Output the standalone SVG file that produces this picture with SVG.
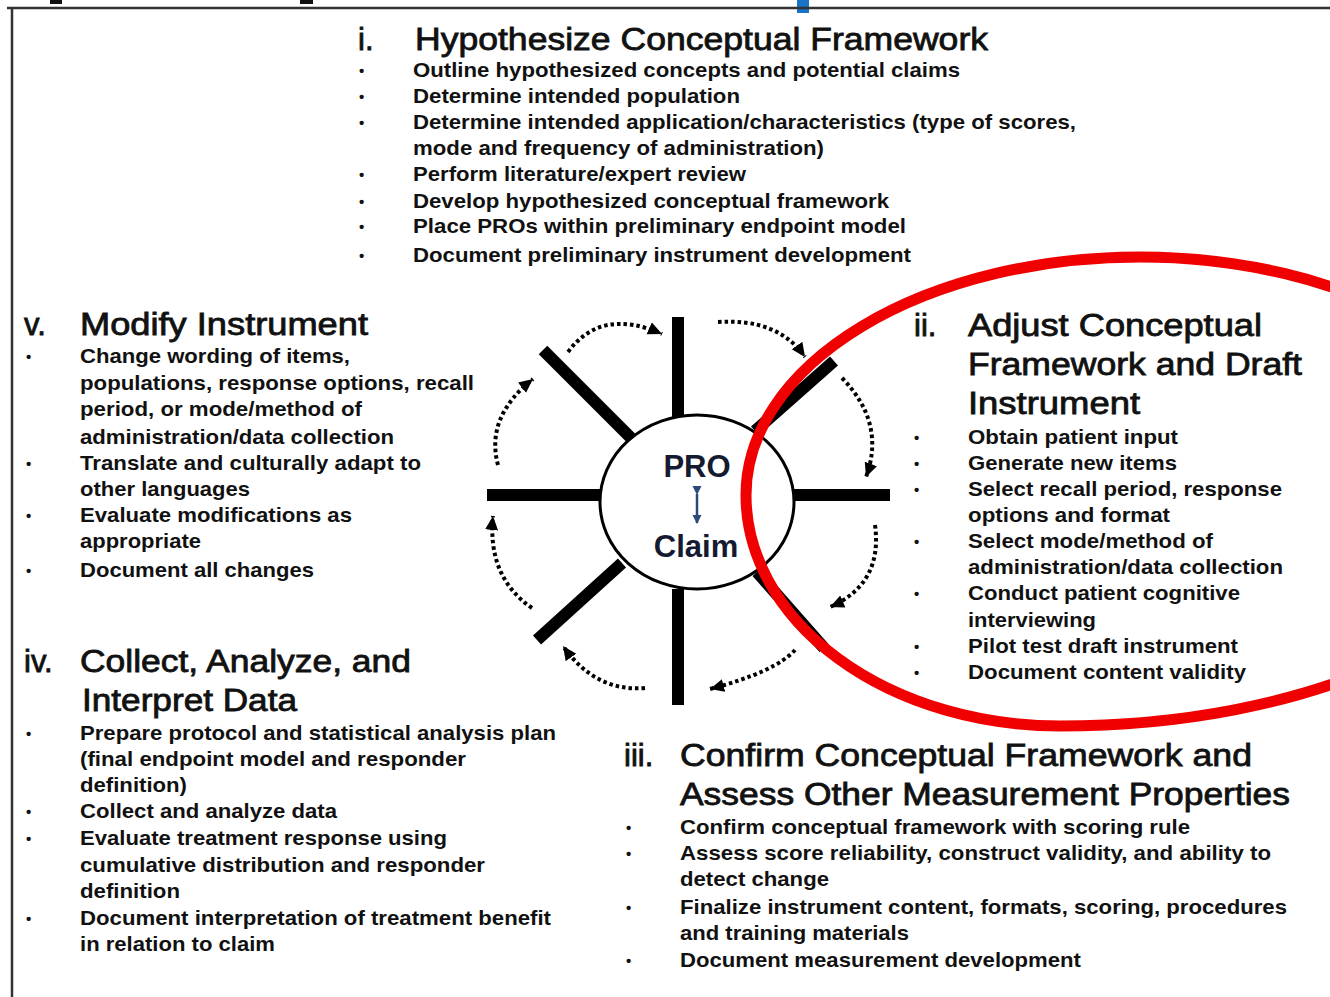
<svg xmlns="http://www.w3.org/2000/svg" width="1330" height="997" viewBox="0 0 1330 997">
<defs>
<style>
text{font-family:"Liberation Sans",Arial,sans-serif;fill:#111}
.h{font-size:31px;font-weight:400;stroke:#111;stroke-width:0.8}
.b{font-size:21px;font-weight:700}
.d{font-size:15px;font-weight:700}
.spoke{stroke:#000;stroke-width:12;stroke-linecap:butt;fill:none}
.arc{stroke:#000;stroke-width:4;fill:none;stroke-dasharray:3.5 3;marker-end:url(#ah)}
</style>
<marker id="ah" markerUnits="userSpaceOnUse" markerWidth="16" markerHeight="14" refX="14" refY="6.5" orient="auto">
<path d="M0,0 L14,6.5 L0,13 Z" fill="#000"/>
</marker>
<marker id="sa" markerUnits="userSpaceOnUse" markerWidth="10" markerHeight="10" refX="8" refY="4.5" orient="auto">
<path d="M0,0 L9,4.5 L0,9 Z" fill="#2c4a78"/>
</marker>
</defs>
<rect width="1330" height="997" fill="#fff"/>
<g id="frame">
<rect x="50" y="0" width="12" height="4" fill="#111"/>
<rect x="300" y="0" width="13" height="4" fill="#111"/>
<rect x="797" y="0" width="12" height="13" fill="#1a73c8"/>
<line x1="7" y1="8" x2="1330" y2="8" stroke="#333" stroke-width="2.5"/>
<line x1="12" y1="8" x2="12" y2="997" stroke="#333" stroke-width="2.5"/>
</g>
<g id="step-i">
<text class="h" x="358" y="50">i.</text>
<text class="h" x="415" y="50" textLength="573" lengthAdjust="spacingAndGlyphs">Hypothesize Conceptual Framework</text>
<text class="d" x="359" y="76">•</text><text class="b" x="413" y="77" textLength="547" lengthAdjust="spacingAndGlyphs">Outline hypothesized concepts and potential claims</text>
<text class="d" x="359" y="102">•</text><text class="b" x="413" y="103" textLength="327" lengthAdjust="spacingAndGlyphs">Determine intended population</text>
<text class="d" x="359" y="128">•</text><text class="b" x="413" y="129" textLength="663" lengthAdjust="spacingAndGlyphs">Determine intended application/characteristics (type of scores,</text>
<text class="b" x="413" y="155" textLength="411" lengthAdjust="spacingAndGlyphs">mode and frequency of administration)</text>
<text class="d" x="359" y="180">•</text><text class="b" x="413" y="181" textLength="333" lengthAdjust="spacingAndGlyphs">Perform literature/expert review</text>
<text class="d" x="359" y="207">•</text><text class="b" x="413" y="208" textLength="476" lengthAdjust="spacingAndGlyphs">Develop hypothesized conceptual framework</text>
<text class="d" x="359" y="232">•</text><text class="b" x="413" y="233" textLength="493" lengthAdjust="spacingAndGlyphs">Place PROs within preliminary endpoint model</text>
<text class="d" x="359" y="261">•</text><text class="b" x="413" y="262" textLength="498" lengthAdjust="spacingAndGlyphs">Document preliminary instrument development</text>
</g>
<g id="step-v">
<text class="h" x="24" y="335">v.</text>
<text class="h" x="80" y="335" textLength="288" lengthAdjust="spacingAndGlyphs">Modify Instrument</text>
<text class="d" x="26" y="362">•</text><text class="b" x="80" y="363" textLength="270" lengthAdjust="spacingAndGlyphs">Change wording of items,</text>
<text class="b" x="80" y="390" textLength="394" lengthAdjust="spacingAndGlyphs">populations, response options, recall</text>
<text class="b" x="80" y="416" textLength="282" lengthAdjust="spacingAndGlyphs">period, or mode/method of</text>
<text class="b" x="80" y="444" textLength="314" lengthAdjust="spacingAndGlyphs">administration/data collection</text>
<text class="d" x="26" y="469">•</text><text class="b" x="80" y="470" textLength="341" lengthAdjust="spacingAndGlyphs">Translate and culturally adapt to</text>
<text class="b" x="80" y="496" textLength="170" lengthAdjust="spacingAndGlyphs">other languages</text>
<text class="d" x="26" y="521">•</text><text class="b" x="80" y="522" textLength="272" lengthAdjust="spacingAndGlyphs">Evaluate modifications as</text>
<text class="b" x="80" y="548" textLength="121" lengthAdjust="spacingAndGlyphs">appropriate</text>
<text class="d" x="26" y="576">•</text><text class="b" x="80" y="577" textLength="234" lengthAdjust="spacingAndGlyphs">Document all changes</text>
</g>
<g id="step-iv">
<text class="h" x="24" y="672">iv.</text>
<text class="h" x="80" y="672" textLength="331" lengthAdjust="spacingAndGlyphs">Collect, Analyze, and</text>
<text class="h" x="82" y="711" textLength="215" lengthAdjust="spacingAndGlyphs">Interpret Data</text>
<text class="d" x="26" y="739">•</text><text class="b" x="80" y="740" textLength="476" lengthAdjust="spacingAndGlyphs">Prepare protocol and statistical analysis plan</text>
<text class="b" x="80" y="766" textLength="386" lengthAdjust="spacingAndGlyphs">(final endpoint model and responder</text>
<text class="b" x="80" y="792" textLength="107" lengthAdjust="spacingAndGlyphs">definition)</text>
<text class="d" x="26" y="817">•</text><text class="b" x="80" y="818" textLength="257" lengthAdjust="spacingAndGlyphs">Collect and analyze data</text>
<text class="d" x="26" y="844">•</text><text class="b" x="80" y="845" textLength="367" lengthAdjust="spacingAndGlyphs">Evaluate treatment response using</text>
<text class="b" x="80" y="872" textLength="405" lengthAdjust="spacingAndGlyphs">cumulative distribution and responder</text>
<text class="b" x="80" y="898" textLength="100" lengthAdjust="spacingAndGlyphs">definition</text>
<text class="d" x="26" y="924">•</text><text class="b" x="80" y="925" textLength="471" lengthAdjust="spacingAndGlyphs">Document interpretation of treatment benefit</text>
<text class="b" x="80" y="951" textLength="195" lengthAdjust="spacingAndGlyphs">in relation to claim</text>
</g>
<g id="step-iii">
<text class="h" x="624" y="766">iii.</text>
<text class="h" x="680" y="766" textLength="572" lengthAdjust="spacingAndGlyphs">Confirm Conceptual Framework and</text>
<text class="h" x="680" y="805" textLength="610" lengthAdjust="spacingAndGlyphs">Assess Other Measurement Properties</text>
<text class="d" x="626" y="833">•</text><text class="b" x="680" y="834" textLength="510" lengthAdjust="spacingAndGlyphs">Confirm conceptual framework with scoring rule</text>
<text class="d" x="626" y="859">•</text><text class="b" x="680" y="860" textLength="591" lengthAdjust="spacingAndGlyphs">Assess score reliability, construct validity, and ability to</text>
<text class="b" x="680" y="886" textLength="149" lengthAdjust="spacingAndGlyphs">detect change</text>
<text class="d" x="626" y="913">•</text><text class="b" x="680" y="914" textLength="607" lengthAdjust="spacingAndGlyphs">Finalize instrument content, formats, scoring, procedures</text>
<text class="b" x="680" y="940" textLength="229" lengthAdjust="spacingAndGlyphs">and training materials</text>
<text class="d" x="626" y="966">•</text><text class="b" x="680" y="967" textLength="401" lengthAdjust="spacingAndGlyphs">Document measurement development</text>
</g>
<g id="step-ii">
<text class="h" x="914" y="336">ii.</text>
<text class="h" x="968" y="336" textLength="294" lengthAdjust="spacingAndGlyphs">Adjust Conceptual</text>
<text class="h" x="968" y="375" textLength="334" lengthAdjust="spacingAndGlyphs">Framework and Draft</text>
<text class="h" x="968" y="414" textLength="172" lengthAdjust="spacingAndGlyphs">Instrument</text>
<text class="d" x="914" y="443">•</text><text class="b" x="968" y="444" textLength="210" lengthAdjust="spacingAndGlyphs">Obtain patient input</text>
<text class="d" x="914" y="469">•</text><text class="b" x="968" y="470" textLength="209" lengthAdjust="spacingAndGlyphs">Generate new items</text>
<text class="d" x="914" y="495">•</text><text class="b" x="968" y="496" textLength="314" lengthAdjust="spacingAndGlyphs">Select recall period, response</text>
<text class="b" x="968" y="522" textLength="202" lengthAdjust="spacingAndGlyphs">options and format</text>
<text class="d" x="914" y="547">•</text><text class="b" x="968" y="548" textLength="245" lengthAdjust="spacingAndGlyphs">Select mode/method of</text>
<text class="b" x="968" y="574" textLength="315" lengthAdjust="spacingAndGlyphs">administration/data collection</text>
<text class="d" x="914" y="599">•</text><text class="b" x="968" y="600" textLength="272" lengthAdjust="spacingAndGlyphs">Conduct patient cognitive</text>
<text class="b" x="968" y="627" textLength="128" lengthAdjust="spacingAndGlyphs">interviewing</text>
<text class="d" x="914" y="652">•</text><text class="b" x="968" y="653" textLength="270" lengthAdjust="spacingAndGlyphs">Pilot test draft instrument</text>
<text class="d" x="914" y="678">•</text><text class="b" x="968" y="679" textLength="278" lengthAdjust="spacingAndGlyphs">Document content validity</text>
</g>
<g id="wheel">
<line class="spoke" x1="678" y1="317" x2="678" y2="417"/>
<line class="spoke" x1="678" y1="589" x2="678" y2="705"/>
<line class="spoke" x1="487" y1="495" x2="601" y2="495"/>
<line class="spoke" x1="794" y1="495" x2="890" y2="495"/>
<line class="spoke" x1="543" y1="350" x2="633" y2="440"/>
<line class="spoke" x1="755" y1="431" x2="834" y2="361"/>
<line class="spoke" x1="537" y1="640" x2="622" y2="563"/>
<line class="spoke" x1="757" y1="572" x2="824" y2="648"/>
</g>
<g id="center-node">
<ellipse cx="697" cy="502" rx="97" ry="87" fill="#fff" stroke="#000" stroke-width="3"/>
<text x="697" y="477" text-anchor="middle" style="font-size:31px;font-weight:700;fill:#141a30">PRO</text>
<line x1="697" y1="494" x2="697" y2="523" stroke="#2c4a78" stroke-width="2.5" marker-start="url(#sa)" marker-end="url(#sa)"/>
<text x="696" y="557" text-anchor="middle" style="font-size:31px;font-weight:700;fill:#141a30">Claim</text>
</g>
<g id="connectors">
<path class="arc" d="M568,352 Q601,307 662,334"/>
<path class="arc" d="M718,322 Q778,318 805,357"/>
<path class="arc" d="M842,378 Q886,423 866,477"/>
<path class="arc" d="M875,525 Q883,584 830,607"/>
<path class="arc" d="M795,650 Q775,672 710,689"/>
<path class="arc" d="M645,688 Q595,692 563,646"/>
<path class="arc" d="M532,608 Q487,577 493,516"/>
<path class="arc" d="M498,465 Q485,417 533,379"/>
</g>
<g id="highlight">
<path fill="none" stroke="#f00000" stroke-width="11" d="M1534,495 A394,238 0 0 0 1140,257 A394,238 0 0 0 746,495 A314,231 0 0 0 1060,726 A474,231 0 0 0 1534,495 Z"/>
</g>
</svg>
